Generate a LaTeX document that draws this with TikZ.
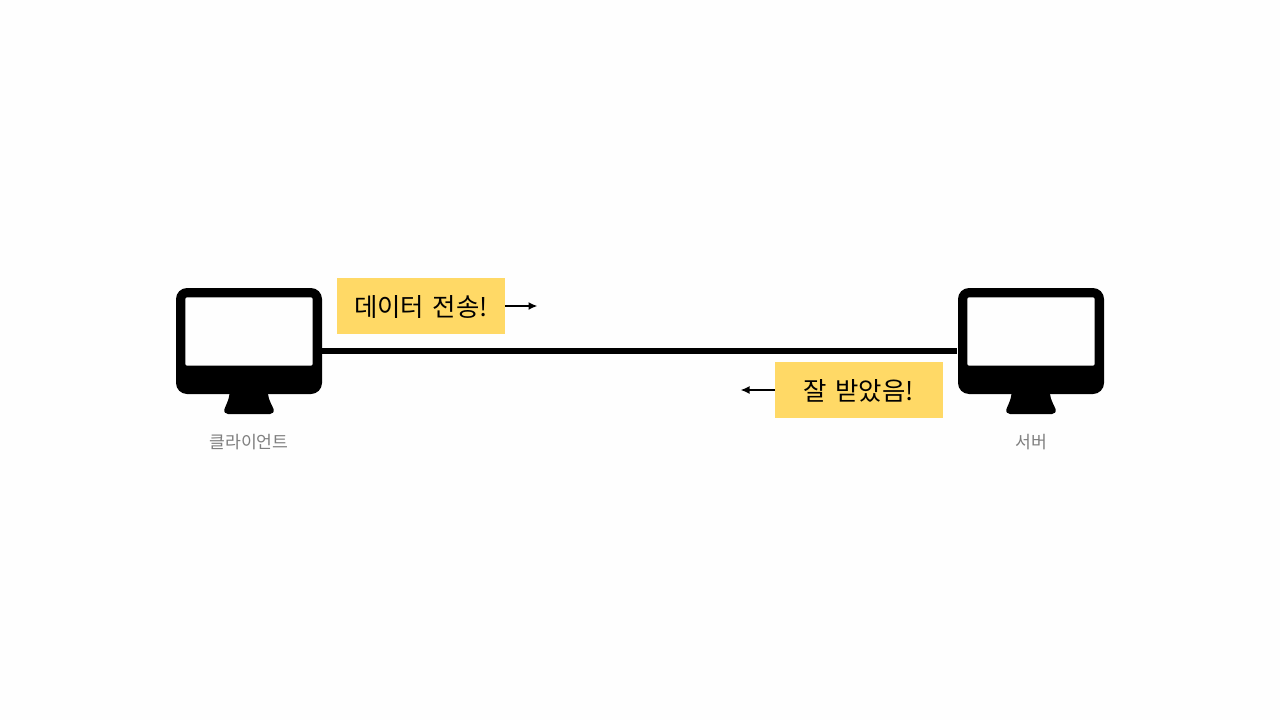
\documentclass[tikz,border=0pt]{standalone}
\usepackage{fontspec}
\setmainfont{Noto Sans CJK KR}
\usetikzlibrary{arrows.meta}
\definecolor{bgc}{HTML}{FEFEFE}
\definecolor{noteyellow}{HTML}{FFD966}
\definecolor{labelgray}{HTML}{7F7F7F}
\tikzset{
  x=1pt,y=-1pt,
  monbody/.style={fill=black,draw=none,rounded corners=11pt,minimum width=146pt,minimum height=106pt,inner sep=0pt,outer sep=0pt},
  monscreen/.style={fill=bgc,draw=none,rounded corners=2pt,minimum width=127.4pt,minimum height=68.4pt,inner sep=0pt,outer sep=0pt},
  note/.style={fill=noteyellow,draw=none,minimum width=168pt,minimum height=56pt,inner sep=0pt,outer sep=0pt,text=black},
  notetext/.style={inner sep=0pt,text=black,font=\fontsize{25.4}{30}\selectfont},
  caption/.style={inner sep=0pt,text=labelgray,font=\fontsize{17.2}{20}\selectfont},
  wire/.style={line width=6pt,draw=black},
  flow/.style={line width=2pt,draw=black,-{Latex[length=9pt,width=8pt]}}
}
\newcommand{\monitorat}[3]{% #1 name, #2 left x, #3 caption
  \node[monbody] (#1) at (#2+73,341) {};
  \node[monscreen] (#1screen) at (#2+73,331.5) {};
  \fill[black] (#2+53.5,390) -- (#2+53.5,394)
     .. controls (#2+53,400) and (#2+49.5,406) .. (#2+48.5,409)
     .. controls (#2+47.5,412) and (#2+49.5,414) .. (#2+52,414)
     -- (#2+94,414)
     .. controls (#2+96.5,414) and (#2+98.5,412) .. (#2+97.5,409)
     .. controls (#2+96.5,406) and (#2+92.5,400) .. (#2+92,394)
     -- (#2+92,390) -- cycle;
  \node[caption] (#1label) at (#2+73,442) {#3};
}
\begin{document}
\begin{tikzpicture}
\useasboundingbox (0,0) rectangle (1280,720);
\fill[bgc] (0,0) rectangle (1280,720);
\monitorat{client}{176}{클라이언트}
\monitorat{server}{958}{서버}
\draw[wire] ([yshift=-10pt]client.east) -- ([yshift=-10pt,xshift=-1pt]server.west);
\node[note] (send) at (421,306) {};
\node[notetext] (sendtext) at (421,306.5) {데이터\hspace{3pt} 전송!};
\node[note] (recv) at (859,390) {};
\node[notetext] (recvtext) at (858.5,390.5) {잘\hspace{3pt} 받았음!};
\coordinate (sendend) at (537.5,306);
\coordinate (recvend) at (740.5,390);
\draw[flow] (send.east) -- (sendend);
\draw[flow] (recv.west) -- (recvend);
\end{tikzpicture}
\end{document}
